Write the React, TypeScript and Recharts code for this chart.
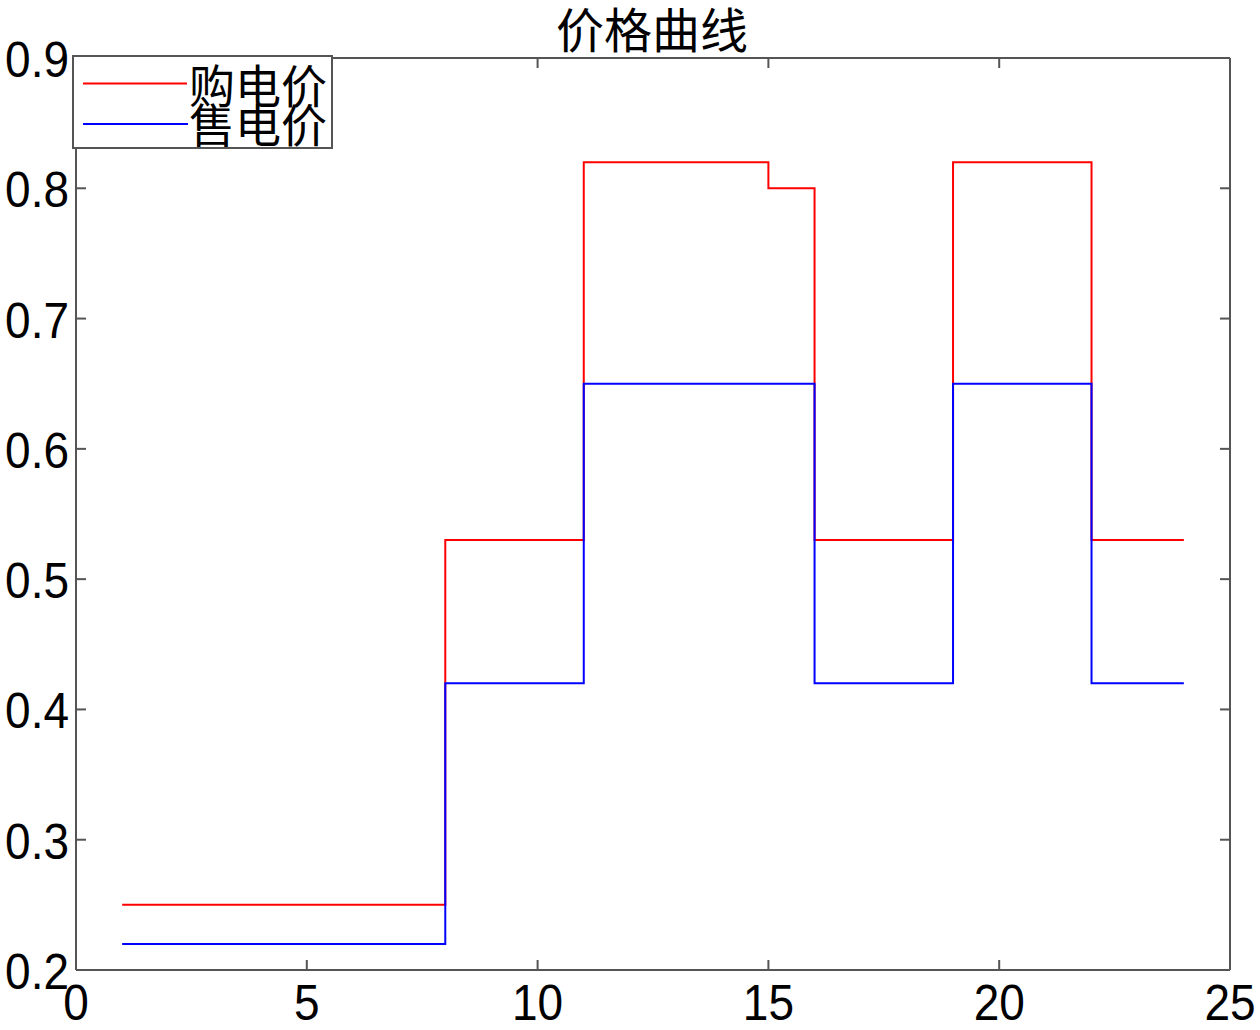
import React from 'react';
import { LineChart, Line, XAxis, YAxis } from 'recharts';

const hours = [1, 2, 3, 4, 5, 6, 7, 8, 9, 10, 11, 12, 13, 14, 15, 16, 17, 18, 19, 20, 21, 22, 23, 24];
const buyPrice = [0.25, 0.25, 0.25, 0.25, 0.25, 0.25, 0.25, 0.53, 0.53, 0.53, 0.82, 0.82, 0.82, 0.82, 0.8, 0.53, 0.53, 0.53, 0.82, 0.82, 0.82, 0.53, 0.53, 0.53];
const sellPrice = [0.22, 0.22, 0.22, 0.22, 0.22, 0.22, 0.22, 0.42, 0.42, 0.42, 0.65, 0.65, 0.65, 0.65, 0.65, 0.42, 0.42, 0.42, 0.65, 0.65, 0.65, 0.42, 0.42, 0.42];
const xTicks = [0, 5, 10, 15, 20, 25];
const yTicks = [0.2, 0.3, 0.4, 0.5, 0.6, 0.7, 0.8, 0.9];
const title = '价格曲线';
const buyLabel = '购电价';
const sellLabel = '售电价';

const data = hours.map((h, i) => ({ hour: h, buy: buyPrice[i], sell: sellPrice[i] }));

const W = 1260;
const H = 1030;
const AX = '#555555';
const NUM_FONT = '"Liberation Sans", Arial, sans-serif';
const CJK_FONT = '"Noto Sans CJK SC", sans-serif';

const XTick = (props: any) => {
  const cx = props.payload.coordinate;
  return (
    <g transform={`translate(${cx}, 1020) scale(1, 1.08)`}>
      <text x={0} y={0} textAnchor="middle" fontSize={46} fontFamily={NUM_FONT} fill="#000">
        {String(props.payload.value)}
      </text>
    </g>
  );
};

const YTick = (props: any) => {
  const cy = props.payload.coordinate;
  return (
    <g transform={`translate(69, ${cy + 19}) scale(1, 1.08)`}>
      <text x={0} y={0} textAnchor="end" fontSize={46} fontFamily={NUM_FONT} fill="#000">
        {Number(props.payload.value).toFixed(1)}
      </text>
    </g>
  );
};

const Empty = () => <g />;

export default function App() {
  return (
    <div style={{ position: 'absolute', left: 0, top: 0, width: W, height: H, background: '#fff' }}>
      <LineChart width={W} height={H} data={data} margin={{ top: 56, right: 28, bottom: 0, left: 0 }}>
        <XAxis
          xAxisId="b"
          dataKey="hour"
          type="number"
          domain={[0, 25]}
          ticks={xTicks}
          allowDataOverflow
          height={60}
          axisLine={{ stroke: AX, strokeWidth: 2 }}
          tickLine={{ stroke: AX, strokeWidth: 2 }}
          tickSize={-10}
          tick={<XTick />}
          interval={0}
        />
        <XAxis
          xAxisId="t"
          orientation="top"
          dataKey="hour"
          type="number"
          domain={[0, 25]}
          ticks={xTicks}
          allowDataOverflow
          height={2}
          axisLine={{ stroke: AX, strokeWidth: 2 }}
          tickLine={{ stroke: AX, strokeWidth: 2 }}
          tickSize={-10}
          tick={<Empty />}
          interval={0}
        />
        <YAxis
          yAxisId="l"
          type="number"
          domain={[0.2, 0.9]}
          ticks={yTicks}
          allowDataOverflow
          width={76}
          axisLine={{ stroke: AX, strokeWidth: 2 }}
          tickLine={{ stroke: AX, strokeWidth: 2 }}
          tickSize={-10}
          tick={<YTick />}
          interval={0}
        />
        <YAxis
          yAxisId="r"
          orientation="right"
          type="number"
          domain={[0.2, 0.9]}
          ticks={yTicks}
          allowDataOverflow
          width={2}
          axisLine={{ stroke: AX, strokeWidth: 2 }}
          tickLine={{ stroke: AX, strokeWidth: 2 }}
          tickSize={-10}
          tick={<Empty />}
          interval={0}
        />
        <Line
          xAxisId="b"
          yAxisId="l"
          type="stepAfter"
          dataKey="buy"
          stroke="#ff0000"
          strokeWidth={2}
          dot={false}
          isAnimationActive={false}
        />
        <Line
          xAxisId="b"
          yAxisId="l"
          type="stepAfter"
          dataKey="sell"
          stroke="#0000ff"
          strokeWidth={2}
          dot={false}
          isAnimationActive={false}
        />
      </LineChart>
      <svg width={W} height={H} style={{ position: 'absolute', left: 0, top: 0, pointerEvents: 'none' }}>
        <text x={652} y={48} textAnchor="middle" fontSize={48} fontFamily={CJK_FONT} fill="#000">
          {title}
        </text>
        <rect x={73} y={56} width={259} height={92} fill="#fff" stroke={AX} strokeWidth={2} />
        <line x1={83} y1={83.5} x2={187} y2={83.5} stroke="#ff0000" strokeWidth={2} />
        <line x1={83} y1={124} x2={188} y2={124} stroke="#0000ff" strokeWidth={2} />
        <text x={189} y={103} fontSize={46} fontFamily={CJK_FONT} fill="#000">
          {buyLabel}
        </text>
        <text x={189} y={142} fontSize={46} fontFamily={CJK_FONT} fill="#000">
          {sellLabel}
        </text>
      </svg>
    </div>
  );
}
